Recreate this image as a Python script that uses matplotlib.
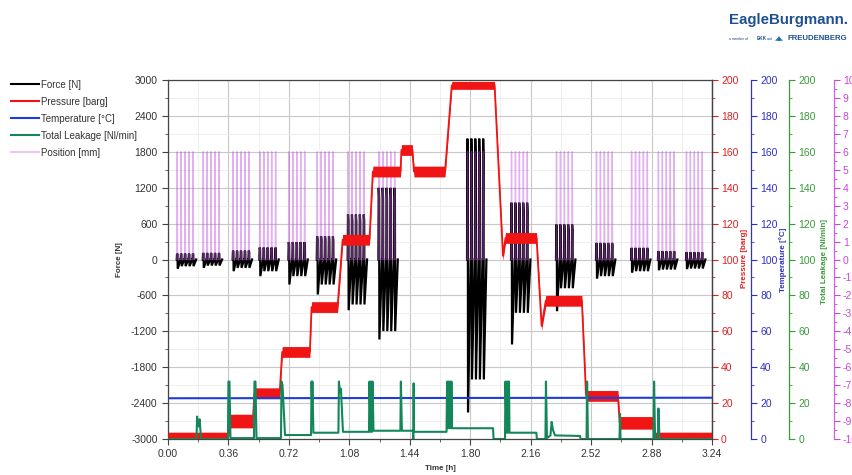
import numpy as np
import matplotlib
matplotlib.use("Agg")
import matplotlib.pyplot as plt
from matplotlib.ticker import MultipleLocator, FormatStrFormatter
from matplotlib.lines import Line2D

plt.rcParams['font.family'] = ['Liberation Sans', 'DejaVu Sans']
plt.rcParams['axes.unicode_minus'] = False

# ---------------------------------------------------------------- data
# stroke blocks: start time [h], peak force [N], trough force [N], first-stroke trough [N]
block_start = [0.052, 0.207, 0.385, 0.544, 0.717, 0.886, 1.070, 1.253,
               1.781, 2.043, 2.311, 2.549, 2.758, 2.918, 3.085]
block_force_max = [100, 110, 150, 200, 290, 390, 752, 1198,
                   2020, 950, 585, 278, 195, 140, 122]
block_force_min = [-111, -100, -139, -195, -278, -418, -752, -1198,
                   -2005, -891, -480, -278, -195, -167, -150]
block_force_first_min = [-155, -139, -195, -278, -418, -585, -847, -1337,
                         -2557, -1420, -864, -320, -220, -180, -160]
strokes_per_block = 5
stroke_period = 0.0235      # h
position_peak = 6.0         # mm

# pressure [barg]: level and scatter half-width at each breakpoint
press_t = [0.00, 0.36, 0.37, 0.505, 0.515, 0.665, 0.68, 0.845, 0.855, 1.01,
           1.04, 1.20, 1.22, 1.385, 1.39, 1.455, 1.465, 1.65, 1.69, 1.945,
           1.995, 2.01, 2.195, 2.225, 2.25, 2.465, 2.49, 2.68, 2.69, 2.89,
           2.895, 3.24]
press_v = [2.0, 2.0, 10, 10, 25.5, 25.5, 48.5, 48.5, 73.5, 73.5,
           111, 111, 149, 149, 161, 161, 149, 149, 197, 197,
           102, 112, 112, 63, 77, 77, 24, 24, 9, 9,
           2.0, 2.0]
press_spread = [1.8, 1.8, 3.8, 3.8, 3, 3, 3, 3, 3, 3,
                3, 3, 3, 3, 3, 3, 3, 3, 2.2, 2.2,
                2.5, 3, 3, 2.5, 3, 3, 3, 3, 3.5, 3.5,
                1.8, 1.8]

# temperature [°C]
temp_t = [0.0, 3.24]
temp_v = [22.7, 23.0]

# total leakage [Nl/min]
leak_t = [0.0, 0.170, 0.173, 0.182, 0.188, 0.197, 0.357, 0.360, 0.366, 0.372,
          0.512, 0.515, 0.521, 0.527, 0.673, 0.676, 0.682, 0.697, 0.852, 0.855,
          0.858, 0.860, 0.866, 1.015, 1.018, 1.024, 1.030, 1.042, 1.197, 1.200,
          1.206, 1.209, 1.215, 1.218, 1.224, 1.384, 1.387, 1.393, 1.459, 1.461,
          1.463, 1.465, 1.659, 1.662, 1.668, 1.671, 1.677, 1.680, 1.686, 1.688,
          1.691, 1.936, 1.939, 2.007, 2.010, 2.016, 2.019, 2.025, 2.028, 2.031,
          2.034, 2.194, 2.197, 2.248, 2.251, 2.257, 2.278, 2.285, 2.293, 2.305,
          2.454, 2.457, 2.493, 2.496, 2.501, 2.689, 2.692, 2.695, 2.892, 2.895,
          2.901, 2.918, 2.921, 2.927, 3.24]
leak_v = [0, 0, 12.5, 7, 11, 0, 0, 32, 32, 0.5,
          0.5, 32, 32, 0.5, 0.5, 32, 30, 2.2, 2.2, 32,
          20, 32, 3.5, 3.5, 32, 26, 28, 4, 4, 32,
          4, 32, 4, 32, 4.6, 4.6, 32, 4.6, 4.6, 0,
          31, 4, 4, 32, 6, 32, 6, 32, 6, 32,
          6, 6, 0, 0, 32, 3.5, 32, 3.5, 32, 32,
          3.5, 3.5, 0, 0, 32, 0.5, 2, 9.5, 5, 2,
          1.7, 0, 0, 32, 0, 0, 14, 0, 0, 32,
          0, 0, 17, 0, 0]

time_ticks = [0.00, 0.36, 0.72, 1.08, 1.44, 1.80, 2.16, 2.52, 2.88, 3.24]

# ---------------------------------------------------------------- traces
force_t, force_v, pos_t, pos_v = [], [], [], []
for t0, fmax, fmin, fmin1 in zip(block_start, block_force_max,
                                 block_force_min, block_force_first_min):
    for k in range(strokes_per_block):
        tk = t0 + k * stroke_period
        lo = fmin1 if k == 0 else fmin
        force_t += [tk, tk + 0.002, tk + 0.0045, tk + 0.006, tk + 0.0215]
        force_v += [0, fmax, 0.85 * fmax, lo, 0]
        pos_t += [tk, tk + 0.001, tk + 0.003, tk + 0.005]
        pos_v += [0, 0, position_peak, 0]
    force_t.append(np.nan); force_v.append(np.nan)
    pos_t.append(np.nan); pos_v.append(np.nan)

press_t = np.array(press_t)
press_v = np.array(press_v)
press_spread = np.array(press_spread)

# ---------------------------------------------------------------- colours
C_FORCE = '#000000'
C_PRESS = '#f01414'
C_TEMP = '#1e3cdc'
C_LEAK = '#14875a'
C_POS = '#c050e0'
C_POS_LEG = '#ebc6f2'
C_TXT = '#333333'

fig = plt.figure(figsize=(8.53, 4.75), dpi=100)
ax = fig.add_axes([168 / 853, 36 / 475, 544 / 853, 359 / 475])

ax.set_xlim(0, 3.24)
ax.set_ylim(-3000, 3000)
ax.set_xticks(time_ticks)
ax.xaxis.set_minor_locator(MultipleLocator(0.18))
ax.xaxis.set_major_formatter(FormatStrFormatter('%.2f'))
ax.yaxis.set_major_locator(MultipleLocator(600))
ax.yaxis.set_minor_locator(MultipleLocator(300))
ax.set_axisbelow(True)
ax.grid(which='major', color='#c8c8c8', lw=0.8)
ax.grid(which='minor', color='#ebebeb', lw=0.6)
ax.tick_params(which='both', direction='out', colors='#444444',
               labelcolor=C_TXT, labelsize=7.5)
ax.tick_params(which='major', length=4)
ax.tick_params(which='minor', length=2)
for s in ax.spines.values():
    s.set_color('#444444')
    s.set_linewidth(0.9)

ax.plot(force_t, force_v, color=C_FORCE, lw=1.6, solid_joinstyle='miter')


def twin(pos, spine_color, tick_color, lim, major, minor, fmt='%d'):
    a = ax.twinx()
    a.set_ylim(*lim)
    a.spines['right'].set_position(('axes', pos))
    a.spines['right'].set_color(spine_color)
    a.spines['right'].set_linewidth(0.9)
    for s in ('top', 'left', 'bottom'):
        a.spines[s].set_visible(False)
    a.yaxis.set_major_locator(MultipleLocator(major))
    a.yaxis.set_minor_locator(MultipleLocator(minor))
    a.yaxis.set_major_formatter(FormatStrFormatter(fmt))
    a.tick_params(axis='y', which='both', direction='out', colors=tick_color,
                  labelcolor=tick_color, labelsize=7.5)
    a.tick_params(axis='y', which='major', length=4, pad=2.5)
    a.tick_params(axis='y', which='minor', length=2)
    return a


ax_pos = twin(1.224, '#d060e0', '#cc44dd', (-10, 10), 1, 0.5)
ax_p = twin(1.0, '#444444', '#e02020', (0, 200), 20, 10)
ax_t = twin(1.072, '#3333cc', '#3030c8', (0, 200), 20, 10)
ax_l = twin(1.142, '#3a9a3a', '#3a9a3a', (0, 200), 20, 10)

ax_pos.plot(pos_t, pos_v, color=C_POS, lw=1.0, alpha=0.45)
ax_p.fill_between(press_t, press_v - press_spread, press_v + press_spread,
                  color=C_PRESS, lw=0)
ax_p.plot(press_t, press_v, color=C_PRESS, lw=1.3)
ax_t.plot(temp_t, temp_v, color=C_TEMP, lw=1.5)
ax_l.plot(leak_t, leak_v, color=C_LEAK, lw=1.5)

# axis titles
fs_lab = 5.8
fig.text(120 / 853, 1 - 260 / 475, 'Force [N]', rotation=90, ha='center',
         va='center', fontsize=fs_lab, fontweight='bold', color=C_TXT)
fig.text(745 / 853, 1 - 258 / 475, 'Pressure [barg]', rotation=90,
         ha='center', va='center', fontsize=fs_lab, fontweight='bold',
         color='#e02020')
fig.text(783 / 853, 1 - 260 / 475, 'Temperature [°C]', rotation=90,
         ha='center', va='center', fontsize=fs_lab, fontweight='bold',
         color='#3030c8')
fig.text(825 / 853, 1 - 262 / 475, 'Total Leakage [Nl/min]', rotation=90,
         ha='center', va='center', fontsize=fs_lab, fontweight='bold',
         color='#3a9a3a')
fig.text(440 / 853, 1 - 468 / 475, 'Time [h]', ha='center', va='center',
         fontsize=fs_lab, fontweight='bold', color=C_TXT)

# legend
handles = [Line2D([], [], color=C_FORCE, lw=1.5),
           Line2D([], [], color=C_PRESS, lw=1.5),
           Line2D([], [], color=C_TEMP, lw=1.5),
           Line2D([], [], color=C_LEAK, lw=1.5),
           Line2D([], [], color=C_POS_LEG, lw=1.5)]
labels = ['Force [N]', 'Pressure [barg]', 'Temperature [°C]',
          'Total Leakage [Nl/min]', 'Position [mm]']
leg = fig.legend(handles, labels, loc='upper left',
                 bbox_to_anchor=(4 / 853, 1 - 73 / 475), frameon=False,
                 fontsize=7, handlelength=2.9, handletextpad=0.2,
                 labelspacing=0.72, borderpad=0.2)
for t in leg.get_texts():
    t.set_color(C_TXT)

# brand mark
fig.text(848 / 853, 1 - 20 / 475, 'EagleBurgmann.', ha='right', va='center',
         fontsize=10.8, fontweight='bold', color='#1d4f91')
fig.text(729 / 853, 1 - 39 / 475, 'a member of', ha='left', va='center',
         fontsize=2.4, color='#1d3f71')
fig.text(757 / 853, 1 - 39 / 475, 'EKK', ha='left', va='center',
         fontsize=3.4, fontweight='bold', color='#1d4f91')
fig.text(767 / 853, 1 - 39 / 475, 'and', ha='left', va='center',
         fontsize=2.4, color='#1d3f71')
fig.text(775 / 853, 1 - 39 / 475, '◢◣', ha='left', va='center',
         fontsize=4.2, color='#1d6fb1', family=['DejaVu Sans'])
fig.text(788 / 853, 1 - 39 / 475, 'FREUDENBERG', ha='left', va='center',
         fontsize=5.6, fontweight='bold', color='#1d4f91')

fig.savefig('out.png', dpi=100)
